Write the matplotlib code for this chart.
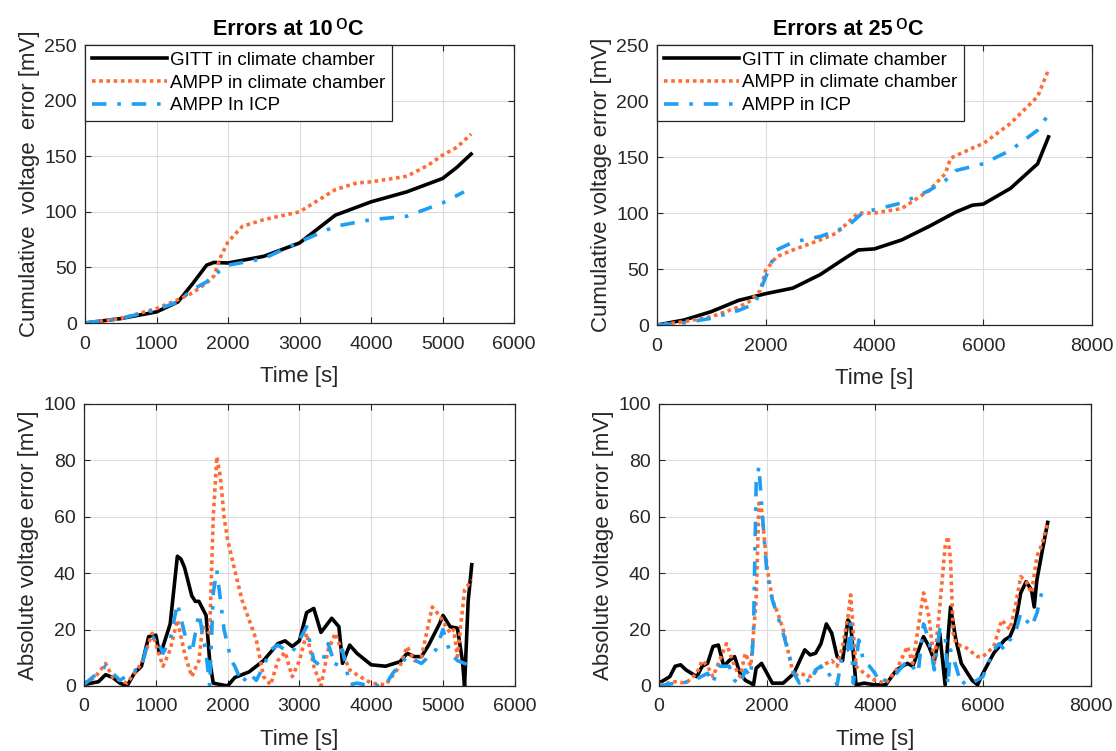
import matplotlib
matplotlib.use('Agg')
import matplotlib.pyplot as plt

plt.rcParams['font.family'] = ['Liberation Sans', 'DejaVu Sans']

# ---- cumulative error, 10 C ----
t_cum10_gitt = [0, 500, 1000, 1300, 1500, 1700, 1800, 2000, 2500, 3000, 3300, 3500, 4000, 4500, 5000, 5200, 5400]
cum10_gitt = [0, 4, 10, 19, 35, 52, 54.5, 54, 60, 72, 87, 97, 109, 118, 130, 140, 152]
t_cum10_ampp = [0, 500, 1000, 1300, 1500, 1700, 1800, 1900, 2000, 2200, 2500, 3000, 3500, 3800, 4000, 4500, 4800, 5000, 5200, 5400]
cum10_ampp = [0, 4, 13, 21, 27, 36, 42, 60, 73, 87, 93, 100, 120, 126, 127, 132, 142, 151, 158, 170]
t_cum10_icp = [0, 500, 1000, 1300, 1500, 1700, 1800, 2000, 2500, 3000, 3500, 4000, 4500, 5000, 5300]
cum10_icp = [0, 4, 12, 19, 30, 37, 43, 52, 58, 73, 87, 93, 96, 108, 118]

# ---- cumulative error, 25 C ----
t_cum25_gitt = [0, 500, 1000, 1500, 2000, 2500, 3000, 3500, 3700, 4000, 4500, 5000, 5500, 5800, 6000, 6500, 7000, 7200]
cum25_gitt = [0, 4.5, 12, 22, 28, 33, 45, 61, 67, 68, 76, 88, 101, 107, 108, 122, 144, 168]
t_cum25_ampp = [0, 500, 1000, 1500, 1700, 1900, 2000, 2200, 2500, 3000, 3300, 3500, 3700, 4000, 4500, 5000, 5300, 5400, 5800, 6000, 6500, 7000, 7200]
cum25_ampp = [0, 3, 7.4, 16, 21, 31, 49, 61, 67, 76, 82, 91, 100, 100, 104, 120, 135, 149, 158, 162, 180, 204, 228]
t_cum25_icp = [0, 500, 1000, 1500, 1800, 2000, 2200, 2500, 3000, 3500, 3800, 4000, 4500, 5000, 5300, 5500, 6000, 6500, 7000, 7200]
cum25_icp = [0, 2, 6, 13, 19, 43, 67, 74, 79, 88, 101, 103, 109, 120, 129, 138, 144, 156, 174, 188]

# ---- absolute error, 10 C ----
t_abs10_gitt = [0, 200, 300, 400, 500, 600, 700, 800, 900, 1000, 1050, 1100, 1200, 1300, 1350, 1400, 1500, 1550,
                1600, 1700, 1750, 1800, 2000, 2100, 2300, 2500, 2700, 2800, 2900, 3000, 3100, 3200, 3300, 3450,
                3550, 3600, 3700, 3800, 4000, 4200, 4400, 4500, 4600, 4700, 4800, 4950, 5000, 5100, 5200, 5270,
                5300, 5350, 5400]
abs10_gitt = [0.5, 1.5, 4, 3, 1, 0, 4.5, 7, 17.5, 18, 11.6, 14, 22, 46, 45, 42, 32, 30,
              30, 25, 9, 1, 0, 3, 5, 9, 15, 16, 14, 16, 26, 27.5, 19, 24,
              21, 8, 14.5, 11.6, 7.5, 7, 8.6, 11.6, 10.4, 10.4, 14.5, 22, 25, 21, 20.5, 9,
              0, 30, 43]
t_abs10_ampp = [0, 150, 300, 400, 600, 800, 950, 1100, 1200, 1300, 1400, 1500, 1600, 1650, 1750, 1800, 1850,
                1900, 1950, 2000, 2100, 2200, 2300, 2400, 2500, 2600, 2700, 2800, 2900, 3000, 3100, 3200, 3300,
                3400, 3500, 3600, 3700, 3800, 4000, 4200, 4400, 4500, 4600, 4700, 4850, 4950, 5100, 5150, 5200,
                5300, 5400]
abs10_ampp = [1, 3, 8, 3, 1, 8, 18.7, 7, 12.8, 23.4, 11.6, 3.3, 9, 21, 18.7, 60, 81.3,
              74, 60, 51.8, 41, 30.5, 23.4, 16.3, 3.3, 0.4, 9, 12, 3.3, 9, 18.7, 7, 0,
              12.8, 18.7, 11.6, 5.7, 4, 1, 0.4, 7, 14, 9, 10.4, 28, 25, 18.7, 20, 10.4,
              34, 37.6]
t_abs10_icp = [0, 300, 500, 800, 900, 1000, 1100, 1200, 1300, 1400, 1500, 1600, 1700, 1750, 1800, 1850, 1900,
               1950, 2050, 2100, 2200, 2300, 2400, 2500, 2600, 2700, 2800, 2900, 3000, 3100, 3200, 3300, 3400,
               3500, 3600, 3700, 3800, 4000, 4200, 4300, 4500, 4700, 4900, 5000, 5100, 5200, 5300, 5400]
abs10_icp = [0.5, 7, 2, 7, 16.3, 17.5, 11.6, 16.3, 29.3, 18.7, 11.6, 25.8, 11.6, 0, 33, 41, 30.5,
             20, 9, 7, 1, 4.5, 2, 7, 12.8, 14.5, 12.8, 12, 16.3, 21, 9, 7, 15,
             7, 12.8, 0.4, 1, 0, 0.4, 4.5, 10.4, 8, 12.8, 20, 11.6, 9, 8, 7]

# ---- absolute error, 25 C ----
t_abs25_gitt = [0, 200, 300, 400, 500, 700, 800, 900, 1000, 1100, 1200, 1300, 1400, 1500, 1600, 1700, 1750,
                1800, 1900, 2000, 2100, 2300, 2500, 2700, 2800, 2900, 3000, 3100, 3200, 3300, 3400, 3500, 3550,
                3650, 3800, 4000, 4200, 4400, 4600, 4700, 4900, 5000, 5100, 5200, 5300, 5350, 5400, 5500, 5600,
                5800, 5900, 6000, 6200, 6400, 6500, 6600, 6700, 6800, 6900, 6950, 7000, 7100, 7200]
abs25_gitt = [1, 3.3, 7, 7.5, 5.7, 3.3, 7, 8, 14, 14.5, 7, 9, 10.4, 4.5, 2, 1, 0.4,
              6.3, 8, 4.5, 1, 1, 4.5, 12.8, 11, 11.6, 15, 22, 18.7, 10.4, 9, 23.4, 22,
              0.4, 1, 0.4, 0.4, 5.7, 8, 7, 17.5, 14, 9, 18.7, 0.4, 16.3, 28, 16.3, 8,
              2, 0.4, 4.5, 11.6, 16.3, 17.5, 22, 33, 37, 34, 28, 37.6, 48, 58]
t_abs25_ampp = [0, 300, 500, 700, 800, 900, 1000, 1100, 1250, 1400, 1500, 1600, 1700, 1800, 1850, 1900, 2000,
                2100, 2200, 2300, 2400, 2500, 2600, 2800, 3000, 3200, 3300, 3400, 3500, 3550, 3600, 3650, 3800,
                4000, 4200, 4400, 4600, 4700, 4900, 5000, 5100, 5200, 5300, 5350, 5400, 5450, 5500, 5700, 5900,
                6000, 6200, 6350, 6500, 6600, 6700, 6800, 6900, 7000, 7100, 7200]
abs25_ampp = [0.4, 1.5, 1, 4.5, 9, 7, 3.3, 8, 15, 7, 3.3, 11.6, 7, 30.5, 64.8, 62.4, 42.3,
              30.5, 25.8, 20, 11.6, 3.3, 4.5, 3.3, 7, 9, 7, 14, 24.6, 32.3, 18.7, 7, 4.5,
              2, 1, 5.7, 14, 8, 33, 24.6, 8, 28, 49.4, 53, 44.7, 18.7, 15, 13.4, 10.4,
              10.4, 14, 23.4, 20, 28, 38.8, 37, 33, 45.9, 50.6, 58]
t_abs25_icp = [0, 300, 600, 900, 1000, 1100, 1300, 1400, 1500, 1600, 1700, 1750, 1800, 1850, 1900, 1950, 2000,
               2100, 2200, 2300, 2400, 2500, 2600, 2700, 2800, 2900, 3000, 3100, 3200, 3300, 3400, 3500, 3550,
               3600, 3700, 3800, 3900, 4000, 4100, 4400, 4600, 4800, 4900, 5000, 5100, 5200, 5300, 5350, 5400,
               5500, 5600, 5700, 5800, 6000, 6200, 6300, 6400, 6500, 6600, 6700, 6800, 6900, 7000, 7100, 7200]
abs25_icp = [0, 1, 1.5, 4.5, 1, 7, 7, 2, 0.4, 5.7, 3.3, 18.7, 72, 77.8, 64.8, 51.8, 40,
             30.5, 24.6, 18.7, 11.6, 4.5, 1, 3.3, 1, 5.7, 7, 3.3, 4.5, 0.4, 11.6, 12.8, 22,
             1, 16.3, 8, 7, 4.5, 1, 4.5, 9, 4.5, 22, 16.3, 5.7, 20, 18.7, 0.4, 12.8,
             7, 0.4, 2, 1, 3.3, 12.8, 15, 12.8, 16.3, 18.7, 25.8, 23.4, 21, 25.8, 34, 34.6]

labels = ['GITT in climate chamber', 'AMPP in climate chamber']
icp_labels = ['AMPP In ICP', 'AMPP in ICP']
c_gitt = 'black'
c_ampp = '#FF6B35'
c_icp = '#1E9FF2'
text_col = '#262626'

fig = plt.figure(figsize=(11.16, 7.51), dpi=100)
ax_tl = fig.add_axes([0.0762, 0.5699, 0.3844, 0.370])
ax_tr = fig.add_axes([0.5887, 0.5672, 0.3898, 0.3728])
ax_bl = fig.add_axes([0.0753, 0.0866, 0.3860, 0.3755])
ax_br = fig.add_axes([0.5905, 0.0866, 0.3870, 0.3755])


def draw(ax, t1, y1, t2, y2, t3, y3, lab3=None):
    ax.plot(t1, y1, color=c_gitt, lw=2.6, label=labels[0])
    ax.plot(t2, y2, color=c_ampp, lw=2.6, ls=(0, (1, 1)), label=labels[1])
    ax.plot(t3, y3, color=c_icp, lw=2.6, ls=(0, (4, 3, 1, 3)), label=lab3)


draw(ax_tl, t_cum10_gitt, cum10_gitt, t_cum10_ampp, cum10_ampp, t_cum10_icp, cum10_icp, icp_labels[0])
draw(ax_tr, t_cum25_gitt, cum25_gitt, t_cum25_ampp, cum25_ampp, t_cum25_icp, cum25_icp, icp_labels[1])
draw(ax_bl, t_abs10_gitt, abs10_gitt, t_abs10_ampp, abs10_ampp, t_abs10_icp, abs10_icp)
draw(ax_br, t_abs25_gitt, abs25_gitt, t_abs25_ampp, abs25_ampp, t_abs25_icp, abs25_icp)

for ax, xmax, ymax in [(ax_tl, 6000, 250), (ax_tr, 8000, 250), (ax_bl, 6000, 100), (ax_br, 8000, 100)]:
    ax.set_xlim(0, xmax)
    ax.set_ylim(0, ymax)
    ax.grid(True, color='#dcdcdc', lw=0.8)
    ax.set_axisbelow(True)
    ax.tick_params(direction='in', top=True, right=True, labelsize=14, colors=text_col, length=4)
    ax.tick_params(axis='x', pad=9)
    ax.tick_params(axis='y', pad=6)
    for s in ax.spines.values():
        s.set_color(text_col)
        s.set_linewidth(0.9)
    ax.set_xlabel('Time [s]', fontsize=16, color=text_col, labelpad=10)

ax_tl.set_ylabel('Cumulative  voltage  error [mV]', fontsize=16, color=text_col, labelpad=3)
ax_tr.set_ylabel('Cumulative voltage error [mV]', fontsize=16, color=text_col, labelpad=3)
ax_bl.set_ylabel('Absolute voltage error [mV]', fontsize=16, color=text_col, labelpad=3)
ax_br.set_ylabel('Absolute voltage error [mV]', fontsize=16, color=text_col, labelpad=3)


# title with a full size raised "o" for degrees, as in the original
def title(ax, temp, xfrac):
    t1 = ax.text(xfrac, 1.035, 'Errors at ' + temp, transform=ax.transAxes, ha='right',
                 va='baseline', fontsize=15.5, fontweight='bold')
    t2 = ax.annotate('o', xy=(1, 0), xycoords=t1, xytext=(1.5, 5), textcoords='offset points',
                     ha='left', va='bottom', fontsize=15)
    ax.annotate('C', xy=(1, 0), xycoords=t2, xytext=(0.5, -5), textcoords='offset points',
                ha='left', va='bottom', fontsize=15.5, fontweight='bold')


title(ax_tl, '10', 0.578)
title(ax_tr, '25', 0.5425)

for ax in (ax_tl, ax_tr):
    leg = ax.legend(loc='upper left', fontsize=13.5, fancybox=False, framealpha=1,
                    borderaxespad=0, handlelength=4.0, handletextpad=0.2,
                    borderpad=0.35, labelspacing=0.3)
    leg.get_frame().set_edgecolor(text_col)
    leg.get_frame().set_linewidth(0.9)

fig.savefig('out.png', dpi=100)
